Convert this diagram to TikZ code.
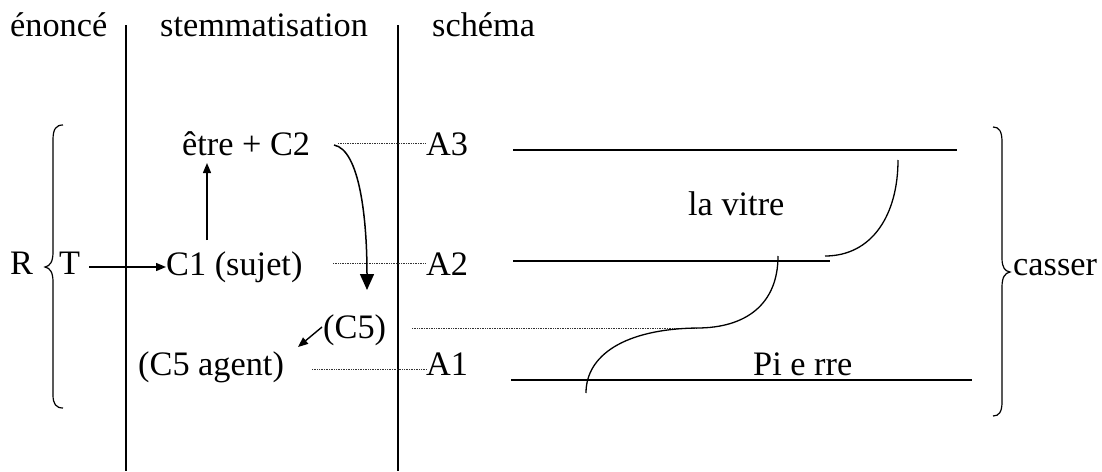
\documentclass[tikz,border=0pt]{standalone}
\usepackage{fontspec}
\setmainfont{Liberation Serif}
\usetikzlibrary{arrows.meta}
\begin{document}
\begin{tikzpicture}[x=1pt,y=-1pt,
  lbl/.style={inner sep=0pt,anchor=base west,font=\fontsize{34.3}{38}\selectfont},
  rule/.style={line width=1.8pt},
  hline/.style={line width=1.6pt},
  dots/.style={densely dotted,line width=0.7pt,draw=black!80},
  arr/.style={line width=1.4pt,-{Triangle[length=10pt,width=8pt]}},
  bigarr/.style={line width=1.5pt,-{Triangle[length=16pt,width=14pt]}}]
\useasboundingbox (0,0) rectangle (1102,471);
% header
\node[lbl] (h1) at (10,36) {énoncé};
\node[lbl] (h2) at (160,36) {stemmatisation};
\node[lbl] (h3) at (432,36) {schéma};
\coordinate (v1t) at (126,25); \coordinate (v1b) at (126,471);
\coordinate (v2t) at (398,25); \coordinate (v2b) at (398,471);
\draw[rule] (v1t) -- (v1b);
\draw[rule] (v2t) -- (v2b);
% left column
\node[lbl] (R) at (10,274) {R};
\node[lbl] (T) at (59,274) {T};
\draw[line width=1.2pt] (63,125) .. controls (56,125) and (53,129) .. (53,140) -- (53,252)
  .. controls (53,262) and (50,266) .. (45,267) .. controls (50,268) and (53,272) .. (53,282)
  -- (53,395) .. controls (53,404) and (56,408) .. (63,408);
% stemmatisation
\node[lbl] (C1) at (166,275) {C1 (sujet)};
\node[lbl] (E) at (182,155) {être + C2};
\node[lbl] (C5) at (323,338) {(C5)};
\node[lbl] (C5a) at (138,375) {(C5 agent)};
\coordinate (Tout) at (89,267); \coordinate (C1in) at (166,267);
\draw[arr] (Tout) -- (C1in);
\coordinate (C1up) at (207,240); \coordinate (Edown) at (207,163);
\draw[arr] (C1up) -- (Edown);
\coordinate (C5s) at (322,327); \coordinate (C5e) at (298,347);
\draw[arr] (C5s) -- (C5e);
\coordinate (cs) at (334,145); \coordinate (ce) at (367,290);
\draw[bigarr] (cs) .. controls (360,150) and (367,220) .. (ce);
% schema labels
\node[lbl] (A3) at (426,155) {A3};
\node[lbl] (A2) at (426,275) {A2};
\node[lbl] (A1) at (426,375) {A1};
\draw[dots] (338,143) -- (A3.west |- 0,143);
\draw[dots] (333,263) -- (A2.west |- 0,263);
\draw[dots] (312,369) -- (A1.west |- 0,369);
\draw[dots] (412,328) -- (697,328);
% lines
\draw[hline] (513,150) -- (957,150);
\draw[hline] (513,261) -- (830,261);
\draw[hline] (511,380) -- (972,380);
\node[lbl] (vitre) at (688,215) {la vitre};
\node[lbl] (pierre) at (753,375) {Pi e rre};
\draw[line width=1.3pt] (898,160) .. controls (898,215) and (872,256) .. (825,256);
\draw[line width=1.3pt] (778,256) .. controls (778,305) and (745,328) .. (697,328)
  .. controls (625,329) and (586,355) .. (586,393);
% right brace
\draw[line width=1.2pt] (993,127) .. controls (999,127) and (1002,131) .. (1002,142) -- (1002,258)
  .. controls (1002,268) and (1005,271) .. (1010,272) .. controls (1005,273) and (1002,277) .. (1002,287)
  -- (1002,402) .. controls (1002,412) and (999,416) .. (993,416);
\node[lbl] (casser) at (1013,275) {casser};
\end{tikzpicture}
\end{document}
